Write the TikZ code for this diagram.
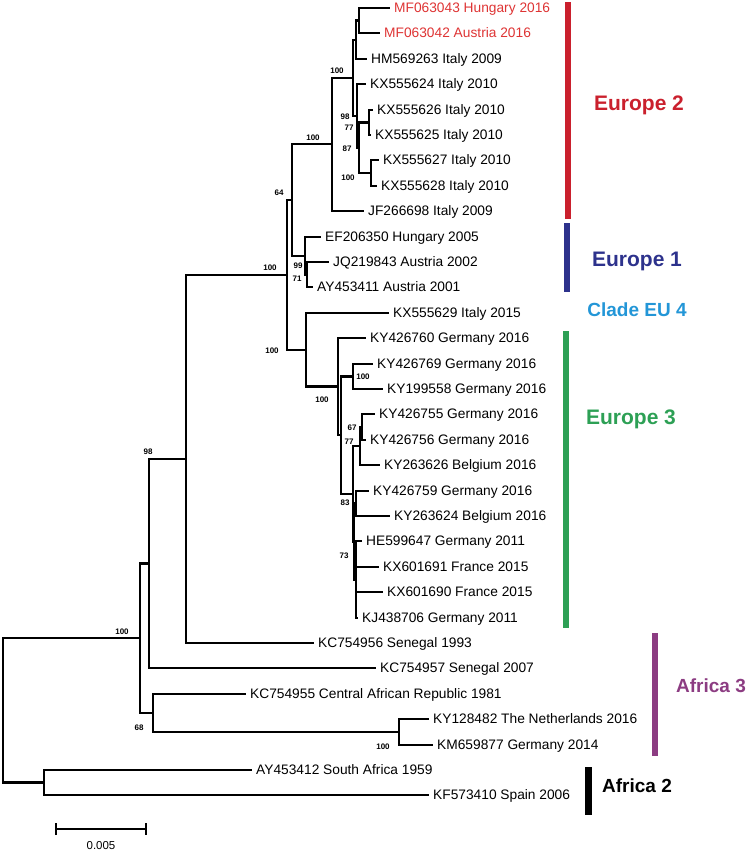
\documentclass[tikz,border=0pt]{standalone}
\usepackage{fontspec}
\setmainfont{Liberation Sans}
\usetikzlibrary{arrows.meta,positioning}
\definecolor{mfred}{RGB}{222,52,52}
\definecolor{eutwo}{RGB}{202,32,45}
\definecolor{euone}{RGB}{45,50,140}
\definecolor{eufour}{RGB}{35,150,215}
\definecolor{euthree}{RGB}{45,160,85}
\definecolor{afthree}{RGB}{140,60,130}
\begin{document}
\begin{tikzpicture}[x=1pt,y=-1pt,
          twig/.style={line width=2.1pt},
          leaf/.style={anchor=west,inner xsep=4pt,inner ysep=0pt,
                       text height=9.9pt,text depth=0pt,
                       font=\fontsize{13.75}{15}\selectfont},
          boot/.style={inner sep=0pt,text height=5.7pt,text depth=0pt,
                       font=\fontsize{8}{9}\selectfont\bfseries},
          cbar/.style={inner sep=0pt,outer sep=0pt,minimum width=6pt},
          cladelbl/.style={inner sep=0pt,text height=15pt,text depth=0pt,
                           font=\fontsize{21}{24}\selectfont\bfseries}]
  \useasboundingbox (0,0) rectangle (746,853);

  % taxa
  \node[leaf,mfred] (l1) at (390,8) {MF063043 Hungary 2016};
  \node[leaf,mfred] (l2) at (380,33) {MF063042 Austria 2016};
  \node[leaf] (l3) at (367,59) {HM569263 Italy 2009};
  \node[leaf] (l4) at (366,84) {KX555624 Italy 2010};
  \node[leaf] (l5) at (373,110) {KX555626 Italy 2010};
  \node[leaf] (l6) at (371,135) {KX555625 Italy 2010};
  \node[leaf] (l7) at (379,160) {KX555627 Italy 2010};
  \node[leaf] (l8) at (377,186) {KX555628 Italy 2010};
  \node[leaf] (l9) at (364,211) {JF266698 Italy 2009};
  \node[leaf] (l10) at (321,237) {EF206350 Hungary 2005};
  \node[leaf] (l11) at (329,262) {JQ219843 Austria 2002};
  \node[leaf] (l12) at (313,287) {AY453411 Austria 2001};
  \node[leaf] (l13) at (389,313) {KX555629 Italy 2015};
  \node[leaf] (l14) at (366,338) {KY426760 Germany 2016};
  \node[leaf] (l15) at (373,364) {KY426769 Germany 2016};
  \node[leaf] (l16) at (383,389) {KY199558 Germany 2016};
  \node[leaf] (l17) at (375,414) {KY426755 Germany 2016};
  \node[leaf] (l18) at (366,440) {KY426756 Germany 2016};
  \node[leaf] (l19) at (380,465) {KY263626 Belgium 2016};
  \node[leaf] (l20) at (369,491) {KY426759 Germany 2016};
  \node[leaf] (l21) at (390,516) {KY263624 Belgium 2016};
  \node[leaf] (l22) at (362,541) {HE599647 Germany 2011};
  \node[leaf] (l23) at (379,567) {KX601691 France 2015};
  \node[leaf] (l24) at (383,592) {KX601690 France 2015};
  \node[leaf] (l25) at (358,618) {KJ438706 Germany 2011};
  \node[leaf] (l26) at (314,643) {KC754956 Senegal 1993};
  \node[leaf] (l27) at (376,668) {KC754957 Senegal 2007};
  \node[leaf] (l28) at (246,694) {KC754955 Central African Republic 1981};
  \node[leaf] (l29) at (429,719) {KY128482 The Netherlands 2016};
  \node[leaf] (l30) at (433,745) {KM659877 Germany 2014};
  \node[leaf] (l31) at (252,770) {AY453412 South Africa 1959};
  \node[leaf] (l32) at (429,795) {KF573410 Spain 2006};

  % inner nodes
  \coordinate (n1) at (359,20.5);
  \coordinate (n2) at (356,39.75);
  \coordinate (n6) at (369,122.5);
  \coordinate (n7) at (371,173);
  \coordinate (n5) at (359,147.75);
  \coordinate (n4) at (357,115.9);
  \coordinate (n3) at (353,77.8);
  \coordinate (n8) at (332,144.4);
  \coordinate (n13) at (307,274.5);
  \coordinate (n12) at (305,255.75);
  \coordinate (n9) at (292,200);
  \coordinate (n17) at (353,376.5);
  \coordinate (n20) at (362,427);
  \coordinate (n19) at (360,446);
  \coordinate (n22) at (356,503.5);
  \coordinate (n23) at (356,579.5);
  \coordinate (n21) at (354,541.5);
  \coordinate (n18) at (353,493.75);
  \coordinate (n16) at (341,435);
  \coordinate (n15) at (338,386.5);
  \coordinate (n14) at (306,349.75);
  \coordinate (n10) at (287,274.9);
  \coordinate (n11) at (186,459);
  \coordinate (nb) at (149,563.5);
  \coordinate (n25) at (399,732);
  \coordinate (n24) at (153,713);
  \coordinate (na) at (140,638.25);
  \coordinate (n26) at (44,782.5);
  \coordinate (root) at (3,710.4);

  % Europe 2
  \draw[twig] (n1) |- (l1.west) (n1) |- (l2.west)
    (n2) |- (n1) (n2) |- (l3.west)
    (n6) |- (l5.west) (n6) |- (l6.west)
    (n7) |- (l7.west) (n7) |- (l8.west)
    (n5) |- (n6) (n5) |- (n7)
    (n4) |- (l4.west) (n4) |- (n5)
    (n3) |- (n2) (n3) |- (n4)
    (n8) |- (n3) (n8) |- (l9.west);
  % Europe 1
  \draw[twig] (n13) |- (l11.west) (n13) |- (l12.west)
    (n12) |- (l10.west) (n12) |- (n13)
    (n9) |- (n8) (n9) |- (n12);
  % Europe 3 and EU 4
  \draw[twig] (n17) |- (l15.west) (n17) |- (l16.west)
    (n20) |- (l17.west) (n20) |- (l18.west)
    (n19) |- (n20) (n19) |- (l19.west)
    (n22) |- (l20.west) (n22) |- (l21.west)
    (n23) |- (l22.west) (n23) |- (l23.west)
    (n23) |- (l24.west) (n23) |- (l25.west)
    (n21) |- (n22) (n21) |- (n23)
    (n18) |- (n19) (n18) |- (n21)
    (n16) |- (n17) (n16) |- (n18)
    (n15) |- (l14.west) (n15) |- (n16)
    (n14) |- (l13.west) (n14) |- (n15)
    (n10) |- (n9) (n10) |- (n14);
  % Africa
  \draw[twig] (n11) |- (n10) (n11) |- (l26.west)
    (nb) |- (n11) (nb) |- (l27.west)
    (n25) |- (l29.west) (n25) |- (l30.west)
    (n24) |- (l28.west) (n24) |- (n25)
    (na) |- (nb) (na) |- (n24)
    (n26) |- (l31.west) (n26) |- (l32.west)
    (root) |- (na) (root) |- (n26);

  % bootstrap values
  \node[boot] (b1) at (337,71) {100};
  \node[boot] (b2) at (345,117) {98};
  \node[boot] (b3) at (349,128) {77};
  \node[boot] (b4) at (347,149) {87};
  \node[boot] (b5) at (348,178) {100};
  \node[boot] (b6) at (313,138) {100};
  \node[boot] (b7) at (279,193) {64};
  \node[boot] (b8) at (270,268) {100};
  \node[boot] (b9) at (298,266) {99};
  \node[boot] (b10) at (297,279) {71};
  \node[boot] (b11) at (272,351) {100};
  \node[boot] (b12) at (363,377) {100};
  \node[boot] (b13) at (322,400) {100};
  \node[boot] (b14) at (352,428) {67};
  \node[boot] (b15) at (349,442) {77};
  \node[boot] (b16) at (345,503) {83};
  \node[boot] (b17) at (344,556) {73};
  \node[boot] (b18) at (148,452) {98};
  \node[boot] (b19) at (122,632) {100};
  \node[boot] (b20) at (139,728) {68};
  \node[boot] (b21) at (383,747) {100};

  % clade bars
  \node[cbar,fill=eutwo,minimum height=217pt] (bar2) at (568,110.5) {};
  \node[cbar,fill=euone,minimum height=69pt] (bar1) at (567,257.5) {};
  \node[cbar,fill=euthree,minimum height=297pt] (bar3) at (566,479.5) {};
  \node[cbar,fill=afthree,minimum height=123pt] (bar5) at (655,694.5) {};
  \node[cbar,fill=black,minimum width=7pt,minimum height=48pt] (bar6) at (588,791) {};
  \node[cladelbl,eutwo] (eu2) at (639,103) {Europe 2};
  \node[cladelbl,euone] (eu1) at (637,259) {Europe 1};
  \node[cladelbl,eufour,font=\fontsize{19}{22}\selectfont\bfseries] (eu4) at (637,309) {Clade EU 4};
  \node[cladelbl,euthree] (eu3) at (631,417) {Europe 3};
  \node[cladelbl,afthree,font=\fontsize{19}{22}\selectfont\bfseries] (af3) at (711,685) {Africa 3};
  \node[cladelbl,font=\fontsize{19}{22}\selectfont\bfseries] (af2) at (637,785) {Africa 2};

  % scale
  \coordinate (sb0) at (55,829);
  \coordinate (sb1) at (147,829);
  \draw[twig,{Bar[width=12pt]}-{Bar[width=12pt]}] (sb0) -- (sb1);
  \node[font=\fontsize{11.5}{13}\selectfont] (sblbl) at (101,846) {0.005};
\end{tikzpicture}
\end{document}
